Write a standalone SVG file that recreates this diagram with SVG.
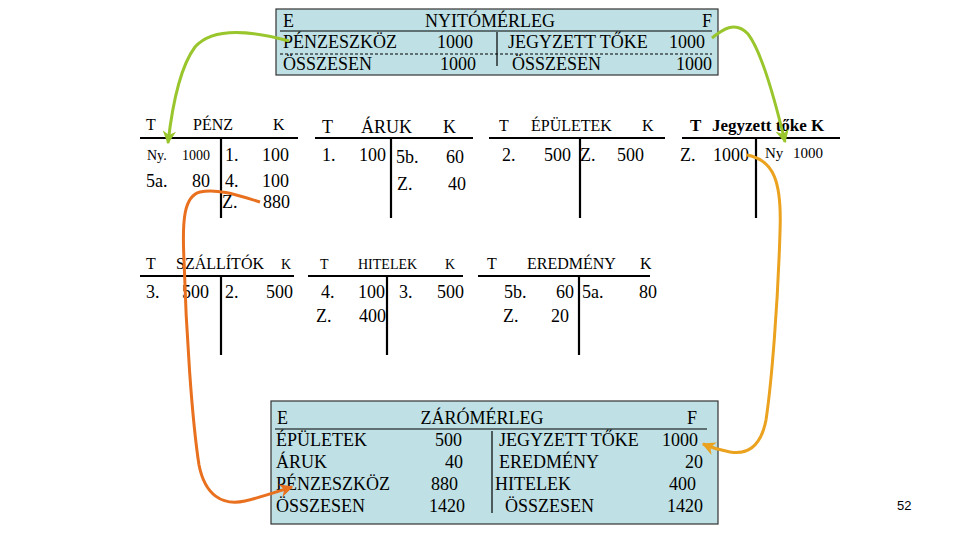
<svg xmlns="http://www.w3.org/2000/svg" width="960" height="540" viewBox="0 0 960 540">
<defs>
<style>
text{font-family:"Liberation Serif","Times New Roman",serif;fill:#000}
.b{font-size:18px}
.h{font-size:16px}
.s{font-size:14px}
.e{text-anchor:end}
.m{text-anchor:middle}
.bold{font-weight:bold}
.box{fill:#bfe0e4;stroke:#333;stroke-width:1.2}
.ln{stroke:#000;stroke-width:1.2}
.tl{stroke:#000;stroke-width:2.2}
.g{fill:none;stroke:#9ac62d;stroke-width:3}
.o{fill:none;stroke:#e8701e;stroke-width:3}
.a{fill:none;stroke:#eba21f;stroke-width:3}
</style>
<marker id="mg" viewBox="0 0 10 10" refX="9" refY="5" markerWidth="4.5" markerHeight="4.5" orient="auto" markerUnits="strokeWidth"><path d="M0,0 L10,5 L0,10 L3,5 z" fill="#9ac62d"/></marker>
<marker id="mo" viewBox="0 0 10 10" refX="9" refY="5" markerWidth="4.5" markerHeight="4.5" orient="auto" markerUnits="strokeWidth"><path d="M0,0 L10,5 L0,10 L3,5 z" fill="#e8701e"/></marker>
<marker id="ma" viewBox="0 0 10 10" refX="9" refY="5" markerWidth="4.5" markerHeight="4.5" orient="auto" markerUnits="strokeWidth"><path d="M0,0 L10,5 L0,10 L3,5 z" fill="#eba21f"/></marker>
</defs>
<rect width="960" height="540" fill="#fff"/>

<g id="nyitomerleg">
<rect class="box" x="276" y="9" width="442" height="66"/>
<text class="b" x="283" y="27">E</text>
<text class="b m" x="490" y="27">NYITÓMÉRLEG</text>
<text class="b e" x="712" y="27">F</text>
<line class="ln" x1="280" y1="31" x2="712" y2="31"/>
<text class="b" x="283" y="48">PÉNZESZKÖZ</text>
<text class="b e" x="473" y="48">1000</text>
<text class="b" x="508" y="48">JEGYZETT TŐKE</text>
<text class="b e" x="705" y="48">1000</text>
<line x1="280" y1="54" x2="712" y2="54" stroke="#000" stroke-width="1" stroke-dasharray="3 2"/>
<text class="b" x="283" y="70">ÖSSZESEN</text>
<text class="b e" x="476" y="70">1000</text>
<text class="b" x="512" y="70">ÖSSZESEN</text>
<text class="b e" x="712" y="70">1000</text>
<line class="ln" x1="497" y1="32" x2="497" y2="66"/>
</g>

<g id="penz">
<text class="h" x="146" y="130">T</text>
<text class="h" x="193" y="130">PÉNZ</text>
<text class="h" x="273" y="130">K</text>
<line class="tl" x1="140" y1="138" x2="298" y2="138"/>
<line class="tl" x1="221" y1="138" x2="221" y2="218"/>
<text class="s" x="147" y="160">Ny.</text>
<text class="s e" x="210" y="160">1000</text>
<text class="b" x="225" y="161">1.</text>
<text class="b e" x="289" y="161">100</text>
<text class="b" x="146" y="187">5a.</text>
<text class="b e" x="210" y="187">80</text>
<text class="b" x="225" y="187">4.</text>
<text class="b e" x="289" y="187">100</text>
<text class="b" x="222" y="208">Z.</text>
<text class="b e" x="290" y="208">880</text>
</g>

<g id="aruk">
<text class="b" x="322" y="133">T</text>
<text class="b" x="361" y="133">ÁRUK</text>
<text class="b" x="443" y="133">K</text>
<line class="tl" x1="315" y1="138" x2="473" y2="138"/>
<line class="tl" x1="391" y1="138" x2="391" y2="218"/>
<text class="b" x="322" y="161">1.</text>
<text class="b e" x="386" y="161">100</text>
<text class="b" x="396" y="163">5b.</text>
<text class="b e" x="464" y="163">60</text>
<text class="b" x="397" y="190">Z.</text>
<text class="b e" x="466" y="190">40</text>
</g>

<g id="epuletek">
<text class="h" x="499" y="131">T</text>
<text class="h" x="531" y="131">ÉPÜLETEK</text>
<text class="h" x="642" y="131">K</text>
<line class="tl" x1="489" y1="138" x2="665" y2="138"/>
<line class="tl" x1="580" y1="138" x2="580" y2="218"/>
<text class="b" x="502" y="161">2.</text>
<text class="b e" x="571" y="161">500</text>
<text class="b" x="580" y="161">Z.</text>
<text class="b e" x="644" y="161">500</text>
</g>

<g id="jegyzett-toke">
<text class="bold" font-size="17" x="690" y="131">T</text>
<text class="bold" font-size="17" x="712" y="131">Jegyzett tőke K</text>
<line class="tl" x1="682" y1="138" x2="840" y2="138"/>
<line class="tl" x1="756" y1="138" x2="756" y2="218"/>
<text class="b" x="680" y="161">Z.</text>
<text class="b e" x="749" y="161">1000</text>
<text font-size="15" x="765" y="158">Ny</text>
<text font-size="15" class="e" x="823" y="158">1000</text>
</g>

<g id="szallitok">
<text class="h" x="146" y="269">T</text>
<text class="h" x="176" y="269">SZÁLLÍTÓK</text>
<text class="s" x="281" y="269">K</text>
<line class="tl" x1="140" y1="276" x2="294" y2="276"/>
<line class="tl" x1="221" y1="276" x2="221" y2="355"/>
<text class="b" x="146" y="298">3.</text>
<text class="b e" x="209" y="298">500</text>
<text class="b" x="225" y="298">2.</text>
<text class="b e" x="293" y="298">500</text>
</g>

<g id="hitelek">
<text class="s" x="320" y="269">T</text>
<text class="s" x="358" y="269">HITELEK</text>
<text class="s" x="445" y="269">K</text>
<line class="tl" x1="308" y1="276" x2="463" y2="276"/>
<line class="tl" x1="387" y1="276" x2="387" y2="355"/>
<text class="b" x="321" y="298">4.</text>
<text class="b e" x="385" y="298">100</text>
<text class="b" x="399" y="298">3.</text>
<text class="b e" x="464" y="298">500</text>
<text class="b" x="316" y="322">Z.</text>
<text class="b e" x="386" y="322">400</text>
</g>

<g id="eredmeny">
<text class="h" x="487" y="269">T</text>
<text class="h" x="527" y="269">EREDMÉNY</text>
<text class="h" x="640" y="269">K</text>
<line class="tl" x1="478" y1="276" x2="650" y2="276"/>
<line class="tl" x1="579" y1="276" x2="579" y2="355"/>
<text class="b" x="504" y="298">5b.</text>
<text class="b e" x="574" y="298">60</text>
<text class="b" x="582" y="298">5a.</text>
<text class="b e" x="657" y="298">80</text>
<text class="b" x="503" y="322">Z.</text>
<text class="b e" x="569" y="322">20</text>
</g>

<g id="zaromerleg">
<rect class="box" x="271" y="401" width="447" height="123"/>
<text class="b" x="277" y="424">E</text>
<text class="b m" x="482" y="424">ZÁRÓMÉRLEG</text>
<text class="b e" x="697" y="424">F</text>
<line class="ln" x1="275" y1="429" x2="707" y2="429"/>
<text class="b" x="276" y="446">ÉPÜLETEK</text>
<text class="b e" x="462" y="446">500</text>
<text class="b" x="276" y="468">ÁRUK</text>
<text class="b e" x="463" y="468">40</text>
<text class="b" x="276" y="490">PÉNZESZKÖZ</text>
<text class="b e" x="458" y="490">880</text>
<text class="b" x="276" y="512">ÖSSZESEN</text>
<text class="b e" x="465" y="512">1420</text>
<line class="ln" x1="492" y1="431" x2="492" y2="513"/>
<text class="b" x="499" y="446">JEGYZETT TŐKE</text>
<text class="b e" x="698" y="446">1000</text>
<text class="b" x="499" y="468">EREDMÉNY</text>
<text class="b e" x="703" y="468">20</text>
<text class="b" x="495" y="490">HITELEK</text>
<text class="b e" x="696" y="490">400</text>
<text class="b" x="505" y="512">ÖSSZESEN</text>
<text class="b e" x="703" y="512">1420</text>
</g>

<g id="connectors">
<path class="g" marker-end="url(#mg)" d="M289 41 C260 33 215 24 195 47 C180 67 172 108 168 143"/>
<path class="g" marker-end="url(#mg)" d="M712 38 C722 30 735 20 748 34 C762 52 775 100 785 142"/>
<path class="o" marker-end="url(#mo)" d="M260 202 C240 196 218 188 200 192 C184 196 182 220 184 260 C186 330 192 420 199 465 C205 495 222 506 245 501 C262 497 276 492 292 487"/>
<path class="a" marker-end="url(#ma)" d="M747 155 C774 160 782 182 780 232 C778 300 772 380 766 420 C761 446 748 455 730 452 C718 450 710 447 703 444"/>
</g>

<text x="897" y="510" font-size="13" style="font-family:'Liberation Sans',Arial,sans-serif">52</text>
</svg>
